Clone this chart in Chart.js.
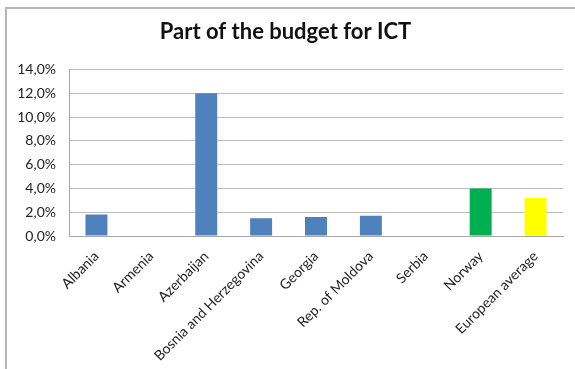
<!DOCTYPE html>
<html>
<head>
<meta charset="utf-8">
<script src="https://cdn.jsdelivr.net/npm/chart.js@4.4.1/dist/chart.umd.min.js"></script>
<style>
  html, body { margin: 0; padding: 0; background: #fff; overflow: hidden; }
  #frame {
    position: absolute; left: 5px; top: 7px; width: 700px; height: 500px;
    border-left: 2px solid #b4b4b4; border-top: 2px solid #b4b4b4;
  }
  #budgetChart { position: absolute; left: 0; top: 0; }
</style>
</head>
<body>
<div id="frame"></div>
<canvas id="budgetChart" width="575" height="369"></canvas>
<script>
const countries = ["Albania", "Armenia", "Azerbaijan", "Bosnia and Herzegovina", "Georgia",
  "Rep. of Moldova", "Serbia", "Norway", "European average"];
// share of the budget spent on ICT, in percent
const ictShare = [1.8, 0, 12.0, 1.5, 1.6, 1.7, 0, 4.0, 3.2];
const barColors = ["#4f81bd", "#4f81bd", "#4f81bd", "#4f81bd", "#4f81bd",
  "#4f81bd", "#4f81bd", "#00b050", "#ffff00"];

const labelFont = { family: "Lato", size: 14 };

const ctx = document.getElementById("budgetChart").getContext("2d");
new Chart(ctx, {
  type: "bar",
  data: {
    labels: countries,
    datasets: [{
      data: ictShare,
      backgroundColor: barColors,
      borderWidth: 0,
      barPercentage: 0.4,
      categoryPercentage: 1.0
    }]
  },
  options: {
    responsive: false,
    animation: false,
    layout: { padding: { left: 8, right: 12, top: 0, bottom: 8 } },
    plugins: {
      legend: { display: false },
      tooltip: { enabled: false },
      title: {
        display: true,
        text: "Part of the budget for ICT",
        color: "#111",
        font: { family: "Lato", size: 22, weight: "bold" },
        padding: { top: 19, bottom: 24 }
      }
    },
    scales: {
      x: {
        grid: { display: false },
        border: { color: "#a6a6a6", width: 1 },
        ticks: {
          color: "#222",
          font: labelFont,
          minRotation: 45,
          maxRotation: 45,
          autoSkip: false,
          padding: 4
        },
        afterFit: (scale) => { scale.height = 125; }
      },
      y: {
        min: 0,
        max: 14,
        grid: { color: "#bdbdbd", drawTicks: false },
        border: { color: "#a6a6a6", width: 1 },
        ticks: {
          stepSize: 2,
          color: "#222",
          font: labelFont,
          padding: 13,
          callback: (v) => v.toFixed(1).replace(".", ",") + "%"
        },
        afterFit: (scale) => { scale.width = 61; }
      }
    }
  }
});
</script>
</body>
</html>
